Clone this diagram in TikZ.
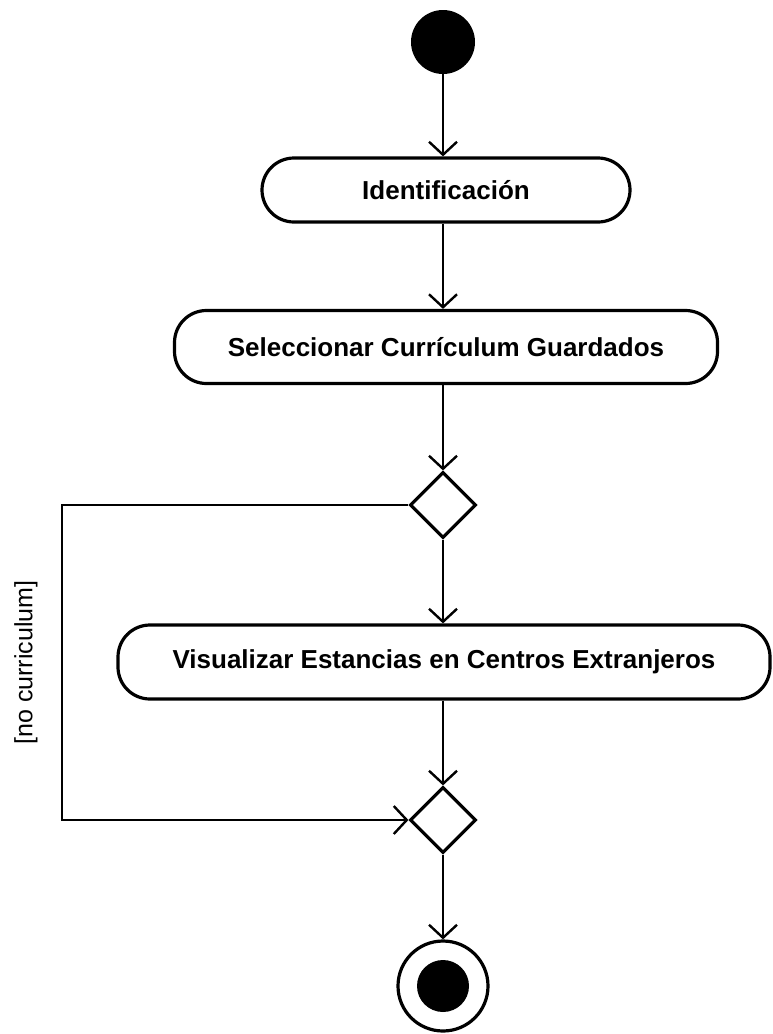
\documentclass[tikz,border=0pt]{standalone}
\usepackage{fontspec}
\setmainfont{Liberation Sans}
\usetikzlibrary{shapes.geometric, arrows.meta, positioning}

\begin{document}
\begin{tikzpicture}[x=1pt, y=-1pt]
            \tikzstyle{action} = [rectangle, draw, line width=3.2pt, rounded corners=32pt, inner sep=0pt, font=\fontsize{26}{30}\selectfont\bfseries]
            \tikzstyle{decision} = [diamond, draw, line width=3.2pt, minimum width=66pt, minimum height=66pt, inner sep=0pt]
            \tikzstyle{arrow} = [line width=2.4pt, -{Straight Barb[length=13pt, width=28pt, line width=2.4pt]}]
            \useasboundingbox (0,0) rectangle (773,1034);

            \node[circle, fill, minimum size=64pt, inner sep=0pt] (start) at (443,42) {};
            \node[action, minimum width=368pt, minimum height=64pt] (ident) at (446,190) {Identificación};
            \node[action, minimum width=543pt, minimum height=73pt] (selec) at (446,347) {Seleccionar Currículum Guardados};
            \node[decision] (dec1) at (443,505) {};
            \node[action, minimum width=652pt, minimum height=74pt] (visual) at (444,662) {Visualizar Estancias en Centros Extranjeros};
            \node[decision] (merge) at (443,820) {};
            \node[circle, draw, line width=3.2pt, minimum size=90pt, inner sep=0pt] (end) at (443,986) {};
            \fill (end.center) circle (26pt);

            \coordinate (top) at (62,505);
            \coordinate (bot) at (62,820);

            \draw[arrow] (start) -- (start |- ident.north);
            \draw[arrow] (ident.south -| start) -- (start |- selec.north);
            \draw[arrow] (selec.south -| start) -- (dec1.north);
            \draw[arrow] (dec1.south) -- (dec1 |- visual.north);
            \draw[arrow] (visual.south -| dec1) -- (merge.north);
            \draw[arrow] (merge.south) -- (end.north);
            \draw[arrow] (dec1.west) -- (top) -- node[left=20pt, midway, rotate=90, anchor=south] {\fontsize{25}{28}\selectfont [no curriculum]} (bot) -- (merge.west);
        \end{tikzpicture}
\end{document}
